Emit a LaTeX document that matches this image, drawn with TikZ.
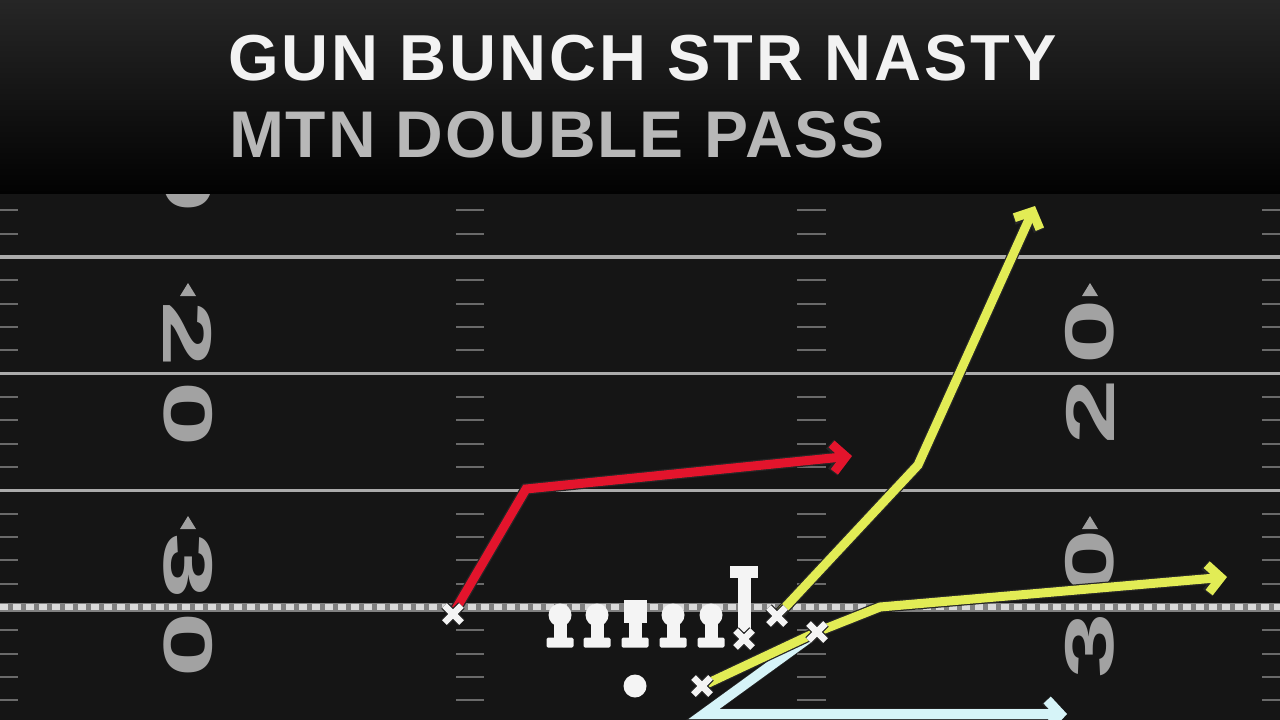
\documentclass[tikz,border=0pt]{standalone}
\usepackage{fontspec}
\setmainfont{Liberation Sans}
\usetikzlibrary{arrows.meta,calc}
\pgfdeclarelayer{background}
\pgfdeclarelayer{foreground}
\pgfsetlayers{background,main,foreground}
\definecolor{fieldbg}{HTML}{151515}
\definecolor{hashc}{HTML}{6A6A6A}
\definecolor{yardc}{HTML}{ABABAB}
\definecolor{numc}{HTML}{A2A2A2}
\definecolor{routered}{HTML}{E3142C}
\definecolor{routeyel}{HTML}{E2EC55}
\definecolor{routecyan}{HTML}{D6F4F8}
\definecolor{playerc}{HTML}{F4F4F4}
\definecolor{hdtop}{HTML}{262626}
\definecolor{hdbot}{HTML}{020202}
\definecolor{titleA}{HTML}{F2F2F2}
\definecolor{titleB}{HTML}{B8B8B8}
\definecolor{losbase}{HTML}{808080}
\definecolor{losdash}{HTML}{DADADA}
\newcommand\olman[4]{% name, x, head y, head style
  \fill[playerc, rounded corners=1.5pt] (#2-13.5,637.5) rectangle (#2+13.5,647.5);
  \fill[playerc] (#2-6.5,#3) rectangle (#2+6.5,640);
  \node[#4] (#1) at (#2,#3) {};
}
\newcommand\xplayer[3]{% name, x, y
  \node[xbox] (#1) at (#2,#3) {};
  \draw[xline] ($(#1)+(-8.5,-8.5)$) -- ($(#1)+(8.5,8.5)$)
               ($(#1)+(-8.5,8.5)$) -- ($(#1)+(8.5,-8.5)$);
}
\begin{document}
\begin{tikzpicture}[x=1pt,y=-1pt,
  hashmark/.style={hashc, line width=2pt},
  yardline/.style={yardc, line width=3.5pt},
  yardnum/.style={text=numc, inner sep=0pt, font=\fontsize{69}{69}\selectfont\bfseries},
  titleone/.style={inner sep=0pt, anchor=base west, font=\fontsize{65}{65}\selectfont\bfseries\addfontfeatures{LetterSpace=4.6}},
  titletwo/.style={inner sep=0pt, anchor=base west, font=\fontsize{66}{66}\selectfont\bfseries\addfontfeatures{LetterSpace=2.8}},
  route/.style={line width=9pt, line join=miter, -{Straight Barb[length=13pt,width=28pt]}, preaction={draw=black!85, line width=11.5pt}},
  xbox/.style={rectangle, minimum size=20pt, inner sep=0pt},
  xline/.style={playerc, line width=6.5pt, preaction={draw=black!85, line width=9pt}},
  lhead/.style={circle, fill=playerc, minimum size=23pt, inner sep=0pt},
  csq/.style={rectangle, fill=playerc, minimum size=23pt, inner sep=0pt},
  qbdot/.style={circle, fill=playerc, minimum size=23pt, inner sep=0pt}
]
\useasboundingbox (0,0) rectangle (1280,720);
\clip (0,0) rectangle (1280,720);

\begin{pgfonlayer}{background}
\fill[fieldbg] (0,0) rectangle (1280,720);
% hash marks
\foreach \L in {140.33,257,373.67,490.33,607}{
  \foreach \k in {1,2,3,4}{
    \pgfmathsetmacro\yy{\L+\k*23.333}
    \draw[hashmark] (0,\yy) -- (18,\yy);
    \draw[hashmark] (456,\yy) -- (484,\yy);
    \draw[hashmark] (797,\yy) -- (826,\yy);
    \draw[hashmark] (1262,\yy) -- (1280,\yy);
  }
}
% yard lines
\foreach \yy in {140.33,257,373.67,490.33}{
  \draw[yardline] (0,\yy) -- (1280,\yy);
}
% yard numbers left
\node[yardnum, rotate=-90] (l10b) at (188,180) {\scalebox{1.7}[1]{0}};
\node[yardnum, rotate=-90] (l20a) at (188,334) {\scalebox{1.7}[1]{2}};
\node[yardnum, rotate=-90] (l20b) at (188,414) {\scalebox{1.7}[1]{0}};
\node[yardnum, rotate=-90] (l30a) at (188,566) {\scalebox{1.7}[1]{3}};
\node[yardnum, rotate=-90] (l30b) at (188,645) {\scalebox{1.7}[1]{0}};
% yard numbers right
\node[yardnum, rotate=90] (r20a) at (1090,412) {\scalebox{1.7}[1]{2}};
\node[yardnum, rotate=90] (r20b) at (1090,332) {\scalebox{1.7}[1]{0}};
\node[yardnum, rotate=90] (r30a) at (1090,646) {\scalebox{1.7}[1]{3}};
\node[yardnum, rotate=90] (r30b) at (1090,562) {\scalebox{1.7}[1]{0}};
% direction triangles
\foreach \xx/\yy in {188/290,188/523,1090/290,1090/523}{
  \fill[numc] (\xx-8,\yy+6) -- (\xx+8,\yy+6) -- (\xx,\yy-7) -- cycle;
}
% line of scrimmage
\draw[losbase, line width=9pt] (0,607) -- (1280,607);
\draw[losdash, line width=6pt, dash pattern=on 8pt off 5pt] (0,607) -- (1280,607);
% header
\shade[top color=hdtop, bottom color=hdbot] (0,0) rectangle (1280,193);
\node[titleone, text=titleA] (t1) at (228,80) {GUN BUNCH STR NASTY};
\node[titletwo, text=titleB] (t2) at (229,157) {MTN DOUBLE PASS};
\end{pgfonlayer}

% players
\begin{pgfonlayer}{foreground}
\olman{lt}{560}{615}{lhead}
\olman{lg}{597}{615}{lhead}
\olman{c}{635}{611.5}{csq}
\olman{rg}{673}{615}{lhead}
\olman{rt}{711}{615}{lhead}
\fill[playerc] (737.5,577) rectangle (750.5,632);
\fill[playerc] (730,566) rectangle (758,578);
\xplayer{te}{744}{639}
\node[qbdot] (qb) at (635,686) {};
\xplayer{wrx}{453}{614}
\xplayer{wrs}{777}{616}
\xplayer{wrz}{817}{632}
\xplayer{rb}{702}{686}
\end{pgfonlayer}

% route points
\coordinate (r1) at (526,489);
\coordinate (r1end) at (852,456);
\coordinate (y1) at (918,465);
\coordinate (y1end) at (1035,206);
\coordinate (y2) at (880,607);
\coordinate (y2end) at (1227,577);
\coordinate (c1) at (704,714);
\coordinate (c1end) at (1067,714);

\draw[route, routecyan, line width=10pt] (wrz.center) -- (c1) -- (c1end);
\draw[route, routered] (wrx.center) -- (r1) -- (r1end);
\draw[route, routeyel] (wrs.center) -- (y1) -- (y1end);
\draw[route, routeyel] (rb.center) -- (wrz.center) -- (y2) -- (y2end);
\end{tikzpicture}
\end{document}
